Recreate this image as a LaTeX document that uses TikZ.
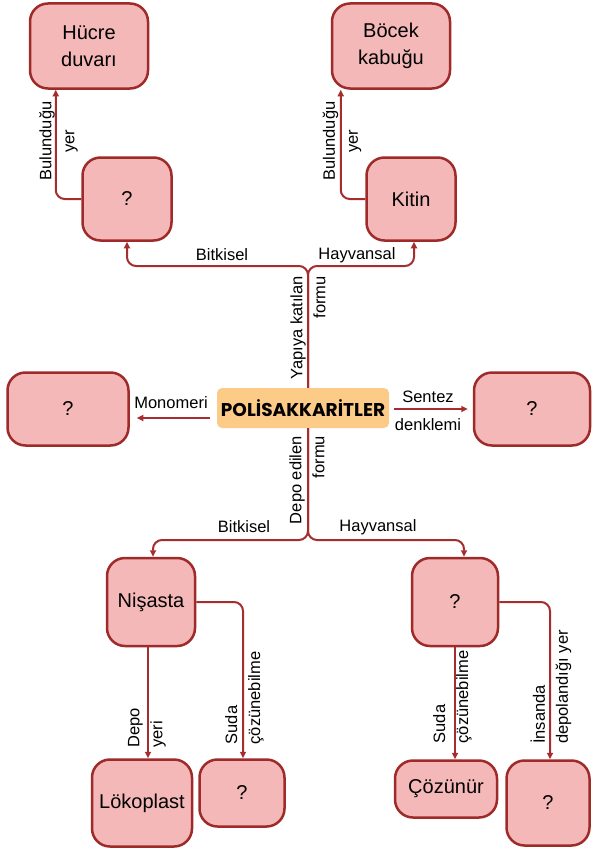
\documentclass[tikz,border=0pt]{standalone}
\usepackage{fontspec}
\setmainfont{Liberation Sans}
\newfontfamily\baslikfont{Poppins}
\usepackage{xcolor}
\usetikzlibrary{arrows.meta}
\definecolor{kenarColor}{HTML}{9F2A2A}
\definecolor{okColor}{HTML}{A52D2D}
\definecolor{kutuColor}{HTML}{F5B8B8}
\definecolor{anaColor}{HTML}{FDCB88}

\tikzset{
    kutu/.style={draw=kenarColor, line width=2.5pt, fill=kutuColor, rounded corners=18pt,
        align=center, inner sep=2pt, font=\fontsize{20}{27}\selectfont},
    ok/.style={draw=okColor, line width=2pt, rounded corners=9pt,
        -{Triangle[length=6.5pt, width=6pt]}},
    etiket/.style={inner sep=0pt, font=\fontsize{16.5}{23}\selectfont},
    dik/.style={etiket, rotate=90},
}

\begin{document}
\begin{tikzpicture}[x=1pt, y=-1pt]
    \useasboundingbox (0,0) rectangle (592,851);

    % ana kavram
    \node[fill=anaColor, rounded corners=5pt, minimum width=172pt, minimum height=40pt,
        font=\baslikfont\bfseries\fontsize{18.5}{20}\selectfont] (poli) at (303,408) {POLİSAKKARİTLER};

    % yapiya katilan formu
    \node[kutu, minimum width=118pt, minimum height=85pt] (hucre) at (89,46) {Hücre\\duvarı};
    \node[kutu, minimum width=118pt, minimum height=85pt] (bocek) at (391,46) {Böcek\\kabuğu};
    \node[kutu, minimum width=89pt, minimum height=83pt] (bitki) at (127,199) {?};
    \node[kutu, minimum width=89pt, minimum height=83pt] (kitin) at (411,199) {Kitin};

    % yan kutular
    \node[kutu, minimum width=121pt, minimum height=73pt] (mono) at (68,409) {?};
    \node[kutu, minimum width=116pt, minimum height=73pt] (sentez) at (532,409) {?};

    % depo edilen formu
    \node[kutu, minimum width=88pt, minimum height=88pt] (nisasta) at (151,602) {Nişasta};
    \node[kutu, minimum width=86pt, minimum height=88pt] (hayvan) at (455,602) {?};
    \node[kutu, minimum width=100pt, minimum height=87pt] (lokop) at (142,803) {Lökoplast};
    \node[kutu, minimum width=85pt, minimum height=67pt] (suda) at (242,793) {?};
    \node[kutu, minimum width=102pt, minimum height=57pt] (cozunur) at (446,789) {Çözünür};
    \node[kutu, minimum width=83pt, minimum height=85pt] (insan) at (548,803) {?};

    \coordinate (ust) at (308,266);
    \coordinate (alt) at (308,540);

    % baglantilar
    \draw[ok] (poli.north -| ust) -- (ust) -| (bitki.south);
    \draw[ok] (poli.north -| ust) -- (ust) -| ([xshift=3pt]kitin.south);
    \draw[ok] (bitki.west) -| ([xshift=27pt]hucre.south west);
    \draw[ok] (kitin.west) -| ([xshift=10pt]bocek.south west);
    \draw[ok, shorten <=7pt, shorten >=7pt] ([yshift=-10pt]poli.west) -- ([yshift=-10pt]poli.west -| mono.east);
    \draw[ok, shorten <=5pt, shorten >=5pt] ([yshift=-1pt]poli.east) -- ([yshift=-1pt]poli.east -| sentez.west);
    \draw[ok] (poli.south -| alt) -- (alt) -| ([xshift=2pt]nisasta.north);
    \draw[ok] (poli.south -| alt) -- (alt) -| ([xshift=9pt]hayvan.north);
    \draw[ok] ([xshift=-3pt]nisasta.south) -- ([xshift=-3pt]nisasta.south |- lokop.north);
    \draw[ok] (nisasta.east) -| ([xshift=1pt]suda.north);
    \draw[ok] (hayvan.south) -- (hayvan.south |- cozunur.north);
    \draw[ok] (hayvan.east) -| ([xshift=2pt]insan.north);

    % etiketler
    \node[etiket] (l1) at (222,255) {Bitkisel};
    \node[etiket] (l2) at (357,255) {Hayvansal};
    \node[dik, align=center] (l3) at (58.5,141) {Bulunduğu\\yer};
    \node[dik, align=center] (l4) at (342,141) {Bulunduğu\\yer};
    \node[dik, align=right] (l5) at (308,328) {Yapıya katılan\\formu};
    \node[etiket] (l6) at (171,403) {Monomeri};
    \node[etiket, align=center, font=\fontsize{16.5}{28}\selectfont] (l7) at (428,411) {Sentez\\denklemi};
    \node[dik, align=right] (l8) at (307,480) {Depo edilen\\formu};
    \node[etiket] (l9) at (244,527) {Bitkisel};
    \node[etiket] (l10) at (378,527) {Hayvansal};
    \node[dik, align=left] (l11) at (147,728) {Depo\\yeri};
    \node[dik, align=left] (l12) at (244.5,698) {Suda\\çözünebilme};
    \node[dik, align=left] (l13) at (452.5,697) {Suda\\çözünebilme};
    \node[dik, align=left] (l14) at (551,687) {İnsanda\\depolandığı yer};
\end{tikzpicture}
\end{document}
